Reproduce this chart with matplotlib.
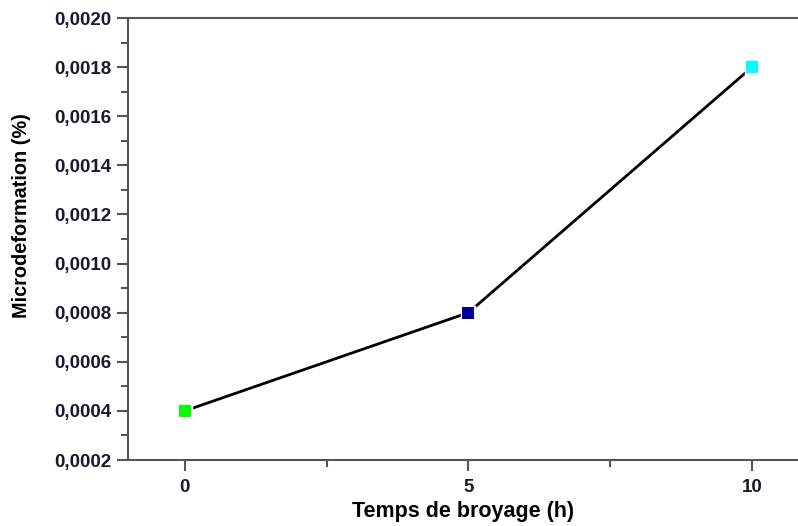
import matplotlib
matplotlib.use("Agg")
import matplotlib.pyplot as plt
from matplotlib.ticker import MultipleLocator, FuncFormatter

plt.rcParams['font.family'] = ['Liberation Sans', 'DejaVu Sans']

time_h = [0, 5, 10]
microdeformation = [0.0004, 0.0008, 0.0018]
marker_colors = ['#00ff00', '#000099', '#00ffff']

fig = plt.figure(figsize=(7.98, 5.26), dpi=100)
ax = fig.add_axes([128/798, 66/526, 1 - 128/798, 442/526])

ax.plot(time_h, microdeformation, color='black', lw=2, zorder=2)
for x, y, c in zip(time_h, microdeformation, marker_colors):
    ax.plot([x], [y], marker='s', ms=9, mfc=c, mec='white', mew=2.5, zorder=3, ls='none')
    ax.plot([x], [y], marker='s', ms=8.5, mfc=c, mec=c, mew=0, zorder=4, ls='none')

ax.set_xlim(-1.0, 10.81)
ax.set_ylim(0.0002, 0.0020)
ax.xaxis.set_major_locator(MultipleLocator(5))
ax.xaxis.set_minor_locator(MultipleLocator(2.5))
ax.yaxis.set_major_locator(MultipleLocator(0.0002))
ax.yaxis.set_minor_locator(MultipleLocator(0.0001))
ax.yaxis.set_major_formatter(FuncFormatter(lambda v, p: f"{v:.4f}".replace('.', ',')))

for s in ['left', 'bottom', 'top']:
    ax.spines[s].set_color('#555555')
    ax.spines[s].set_linewidth(1.5)
ax.spines['right'].set_visible(False)

ax.tick_params(which='major', direction='out', length=8, width=1.5, color='#555555',
               labelsize=13.5, pad=4)
ax.tick_params(axis='x', which='major', pad=6)
ax.tick_params(which='minor', direction='out', length=5, width=1.5, color='#555555')
ax.tick_params(top=False, which='both')
for lab in ax.get_xticklabels() + ax.get_yticklabels():
    lab.set_fontweight('bold')
    lab.set_color('#1a1a2e')

ax.set_xlabel('Temps de broyage (h)', fontsize=15.5, fontweight='bold')
ax.set_ylabel('Microdeformation (%)', fontsize=14.3, fontweight='bold')
ax.yaxis.set_label_coords(-0.145, 0.554)
ax.xaxis.set_label_coords(0.5, -0.093)

fig.savefig('out.png', dpi=100)
